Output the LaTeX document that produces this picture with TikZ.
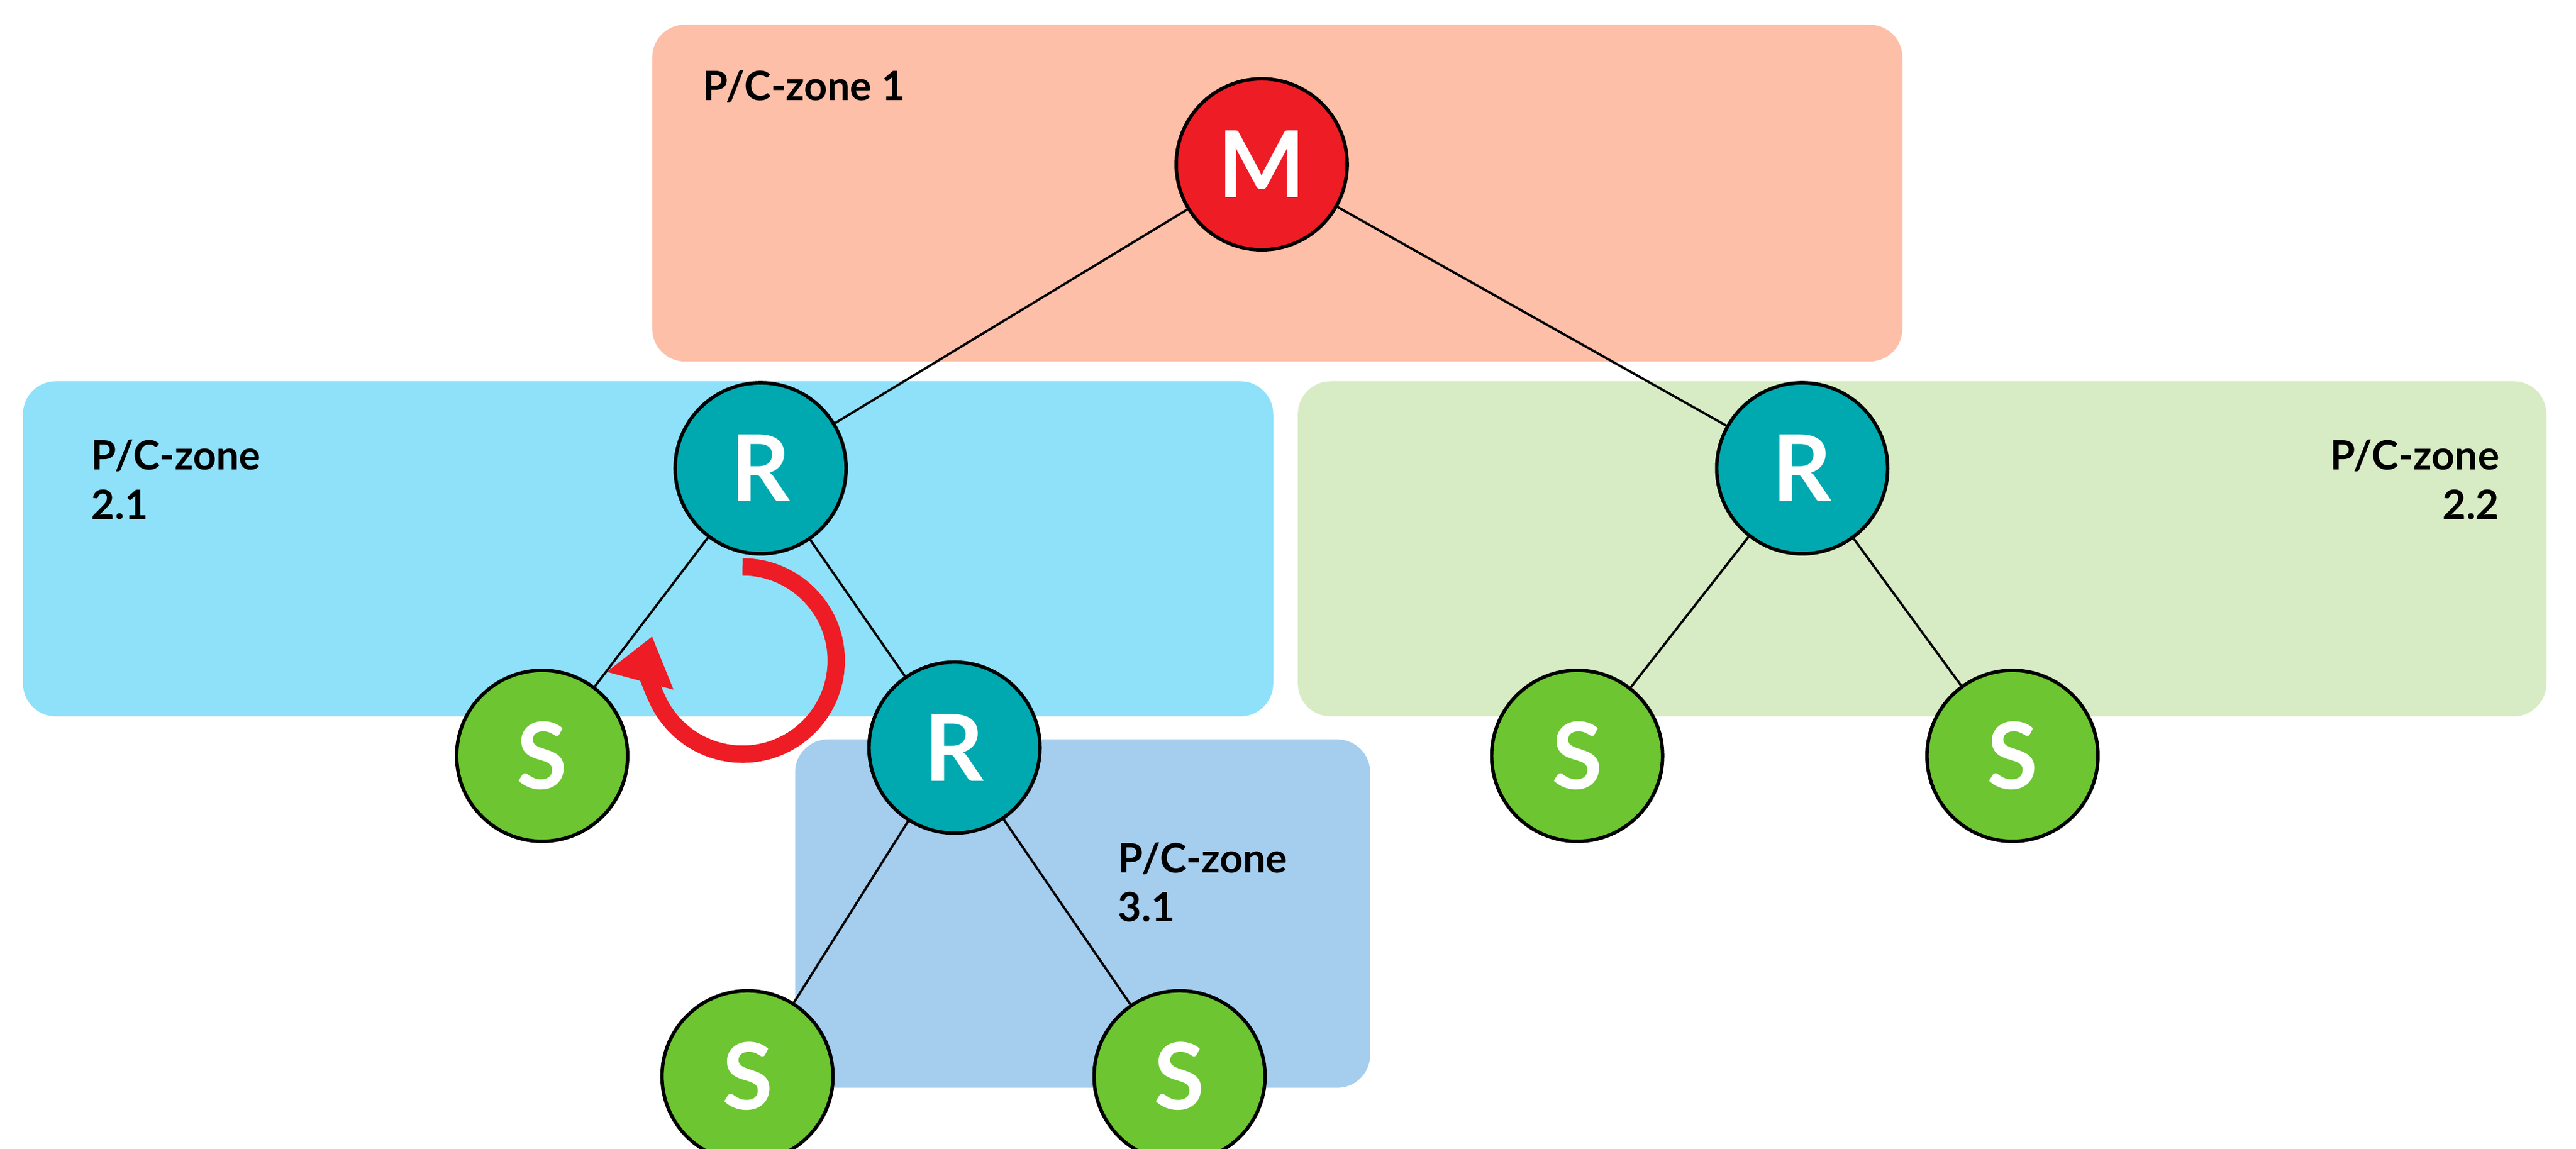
\documentclass[tikz,border=0pt]{standalone}
\usepackage{fontspec}
\setmainfont{Lato}
\usetikzlibrary{arrows.meta}
\definecolor{zoneA}{HTML}{FDBFA8}
\definecolor{zoneB}{HTML}{8FE1F9}
\definecolor{zoneC}{HTML}{D7ECC5}
\definecolor{zoneD}{HTML}{A4CDEE}
\definecolor{mred}{HTML}{EE1C25}
\definecolor{rteal}{HTML}{00A9B0}
\definecolor{sgreen}{HTML}{6CC531}
\begin{document}
\begin{tikzpicture}[x=0.01cm, y=-0.01cm,
  zone/.style = {rounded corners=0.2cm, draw=none},
  lbl/.style = {font=\fontsize{7}{8.5}\selectfont\bfseries, align=left, anchor=north west, inner sep=0pt},
  nd/.style = {circle, draw=black, line width=0.6pt, minimum size=1.04cm, inner sep=0pt, text=white, font=\fontsize{16}{16}\selectfont\bfseries, fill=#1},
  nd/.default = rteal]

\useasboundingbox (0,0) rectangle (1568,699);

% Zones
\fill[zone, zoneA] (397,15) rectangle (1158,220);
\fill[zone, zoneB] (14,232) rectangle (775,436);
\fill[zone, zoneC] (790,232) rectangle (1550,436);
\fill[zone, zoneD] (484,450) rectangle (834,662);

% Zone labels
\node[lbl] at (427,42) {P/C-zone 1};
\node[lbl] at (55,267) {P/C-zone\\2.1};
\node[lbl, align=right, anchor=north east] at (1522,267) {P/C-zone\\2.2};
\node[lbl] at (680,512) {P/C-zone\\3.1};

% Nodes
\node[nd=mred] (m) at (768,100) {M};
\node[nd] (r1) at (463,285) {R};
\node[nd] (r2) at (1097,285) {R};
\node[nd] (r3) at (581,455) {R};
\node[nd=sgreen] (s1) at (330,460) {S};
\node[nd=sgreen] (s2) at (960,460) {S};
\node[nd=sgreen] (s3) at (1225,460) {S};
\node[nd=sgreen] (s4) at (455,655) {S};
\node[nd=sgreen] (s5) at (718,655) {S};

% Edges
\draw (m) -- (r1);
\draw (m) -- (r2);
\draw (r1) -- (s1);
\draw (r1) -- (r3);
\draw (r2) -- (s2);
\draw (r2) -- (s3);
\draw (r3) -- (s4);
\draw (r3) -- (s5);

% Rotation arrow
\draw[mred, line width=3pt, -{Triangle[length=0.28cm, width=0.4cm]}]
  (452,345) arc[start angle=-90, end angle=195, radius=57];

\end{tikzpicture}
\end{document}
